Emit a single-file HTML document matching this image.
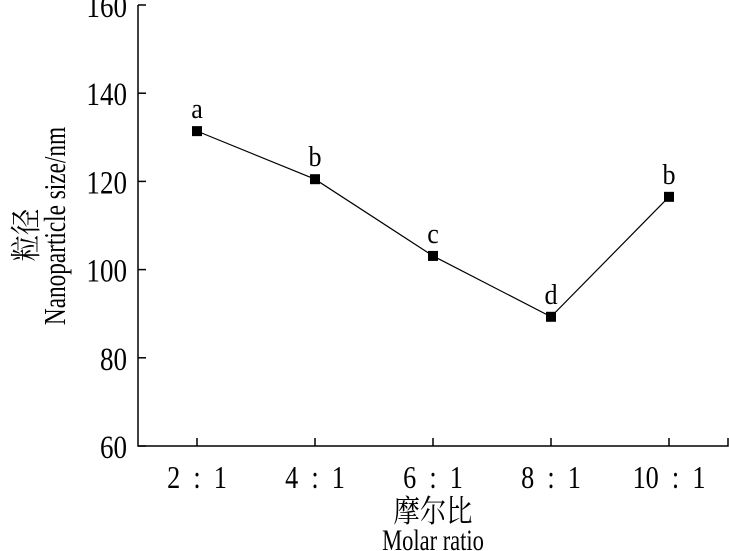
<!DOCTYPE html>
<html><head><meta charset="utf-8"><style>
html,body{margin:0;padding:0;background:#fff;}
svg{display:block;}
text{font-family:"Liberation Serif","Noto Serif CJK SC",serif;fill:#000;}
text.cn{font-family:"Noto Serif CJK SC","Liberation Serif",serif;}
</style></head><body>
<svg id="chart" width="729" height="551"></svg>
<script>
const categories=["2 : 1","4 : 1","6 : 1","8 : 1","10 : 1"];
const sizes=[131.4,120.5,103.1,89.3,116.5];
const letters=["a","b","c","d","b"];
const yTicks=[60,80,100,120,140,160];
const NS="http://www.w3.org/2000/svg";
const svg=document.getElementById('chart');
const x0=138,x1=728,y0=446,y1=5;
function xs(i){return 197+i*118;}
function ys(v){return y0-(v-60)/(160-60)*(y0-y1);}
function mk(t,a,p){const e=document.createElementNS(NS,t);for(const k in a)e.setAttribute(k,a[k]);(p||svg).appendChild(e);return e;}
const ax=mk('path',{d:`M${x0},${y1} V${y0} H${x1} V${y0-8}`,fill:'none',stroke:'#000','stroke-width':1.5});


yTicks.forEach(v=>{
  const y=ys(v);
  const t=mk('line',{x1:x0,x2:x0+8,y1:y,y2:y,stroke:'#000','stroke-width':1.5});
  
  
  const l=mk('text',{x:0,y:0,'text-anchor':'end','font-size':33,transform:`translate(127,${y+12}) scale(0.82,1)`});
  l.textContent=v;
  
  
});
categories.forEach((c,i)=>{
  const x=xs(i);
  const t=mk('line',{x1:x,x2:x,y1:y0,y2:y0-8,stroke:'#000','stroke-width':1.5});
  
  
  const l=mk('text',{x:0,y:0,'text-anchor':'middle','font-size':32,transform:`translate(${x},${y0+42}) scale(0.82,1)`});
  l.textContent=c.replace(/ /g,'\u00a0\u00a0');
  
  
});
const pts=sizes.map((v,i)=>xs(i)+','+ys(v)).join(' ');
const line=mk('polyline',{points:pts,fill:'none',stroke:'#000','stroke-width':1.2});


sizes.forEach((v,i)=>{
  const r=mk('rect',{x:xs(i)-5,y:ys(v)-5,width:10,height:10,fill:'#000'});
  
  
  const l=mk('text',{x:0,y:0,'text-anchor':'middle','font-size':29,transform:`translate(${xs(i)},${ys(v)-13}) scale(0.9,1)`});
  l.textContent=letters[i];
  
  
});
</script>
<script>
(function(){
const NS="http://www.w3.org/2000/svg";const svg=document.getElementById('chart');
function mk(t,a){const e=document.createElementNS(NS,t);for(const k in a)e.setAttribute(k,a[k]);svg.appendChild(e);return e;}
const a=mk('text',{x:0,y:0,'class':'cn','text-anchor':'middle','font-size':31,transform:'translate(433,522) scale(0.85,1)'});
a.textContent='摩尔比';


const b=mk('text',{x:0,y:0,'text-anchor':'middle','font-size':30,transform:'translate(433,550) scale(0.75,1)'});
b.textContent='Molar ratio';


const c=mk('text',{x:0,y:0,'class':'cn','text-anchor':'middle','font-size':31,transform:'translate(37,235) rotate(-90) scale(0.85,1)'});
c.textContent='粒径';


const d=mk('text',{x:0,y:0,'text-anchor':'middle','font-size':31,transform:'translate(65,226) rotate(-90) scale(0.75,1)'});
d.textContent='Nanoparticle size/nm';


})();
</script>
</body></html>
